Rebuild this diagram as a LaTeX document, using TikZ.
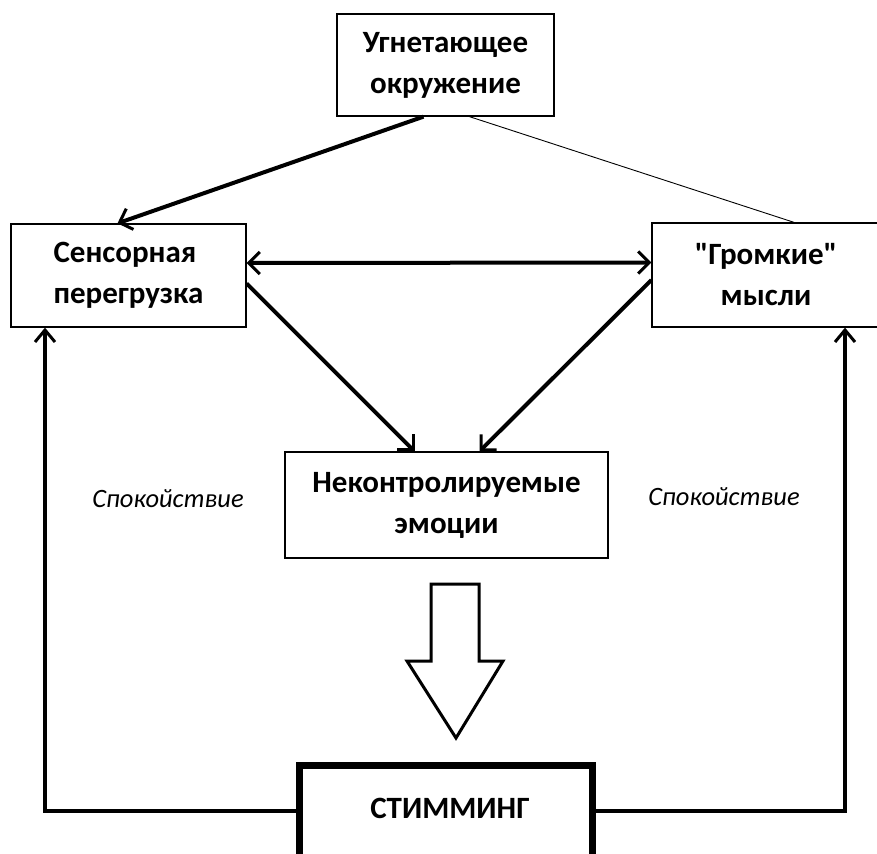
\documentclass[tikz,border=0pt]{standalone}
\usepackage{fontspec}
\setmainfont{Carlito}[Ligatures=TeXOff]
\usetikzlibrary{arrows.meta,calc}
\tikzset{vtip/.tip={Straight Barb[length=11pt,width=22pt,line width=3pt]},
  fbtip/.tip={Straight Barb[length=12pt,width=20pt,line width=3pt]}}
\begin{document}
\begin{tikzpicture}[x=1pt,y=-1pt,
  box/.style={draw, line width=1.3pt, align=center, inner sep=0pt,
    font=\fontsize{31}{41}\selectfont\bfseries},
  arr/.style={line width=4pt, -{vtip}},
  fb/.style={line width=4pt, -{fbtip}},
  calm/.style={font=\fontsize{26.5}{30}\selectfont\itshape}]
\useasboundingbox (0,0) rectangle (877,853);
\node[box, minimum width=217pt, minimum height=102pt] (env) at (445.5,65) {Угнетающее\\окружение};
\node[box, align=left, minimum width=235pt, minimum height=103pt] (sens) at (128.5,275.5) {Сенсорная\\перегрузка};
\node[box, minimum width=228pt, minimum height=104pt] (loud) at (766,275) {"Громкие"\\мысли};
\node[box, minimum width=323pt, minimum height=106pt] (emo) at (446.5,505) {Неконтролируемые\\эмоции};
\node[draw, line width=7pt, minimum width=293pt, minimum height=120pt, anchor=north, inner sep=0pt] (stim) at (446,761.5) {};
\node[font=\fontsize{31}{30}\selectfont\bfseries] (stimtext) at (450,808) {СТИММИНГ};
\node[calm] (calm1) at (168,499) {Спокойствие};
\node[calm] (calm2) at (724,497) {Спокойствие};
% connectors
\draw[arr] ([xshift=-22pt]env.south) -- ([xshift=-11pt]sens.north);
\draw[line width=0.9pt] ([xshift=24pt]env.south) -- ([xshift=28pt]loud.north);
\draw[line width=4pt, {vtip}-{vtip}] ([yshift=12.5pt]sens.east) -- ([yshift=12.5pt]loud.west);
\draw[arr] ([yshift=-8pt]sens.east) -- ([xshift=-32pt]emo.north);
\draw[arr] ([yshift=-5pt]loud.west) -- ([xshift=33pt]emo.north);
% block arrow
\draw[line width=3pt, line join=miter] (431,584) -- (479,584) -- (479,661) -- (503,661) -- (456,738) -- (407,661) -- (431,661) -- cycle;
% feedback loops
\coordinate (bl) at (45,811);
\coordinate (br) at (845,811);
\draw[fb] (stim.west |- bl) -- (bl) -- (bl |- sens.south);
\draw[fb] (stim.east |- br) -- (br) -- (br |- loud.south);
\end{tikzpicture}
\end{document}
